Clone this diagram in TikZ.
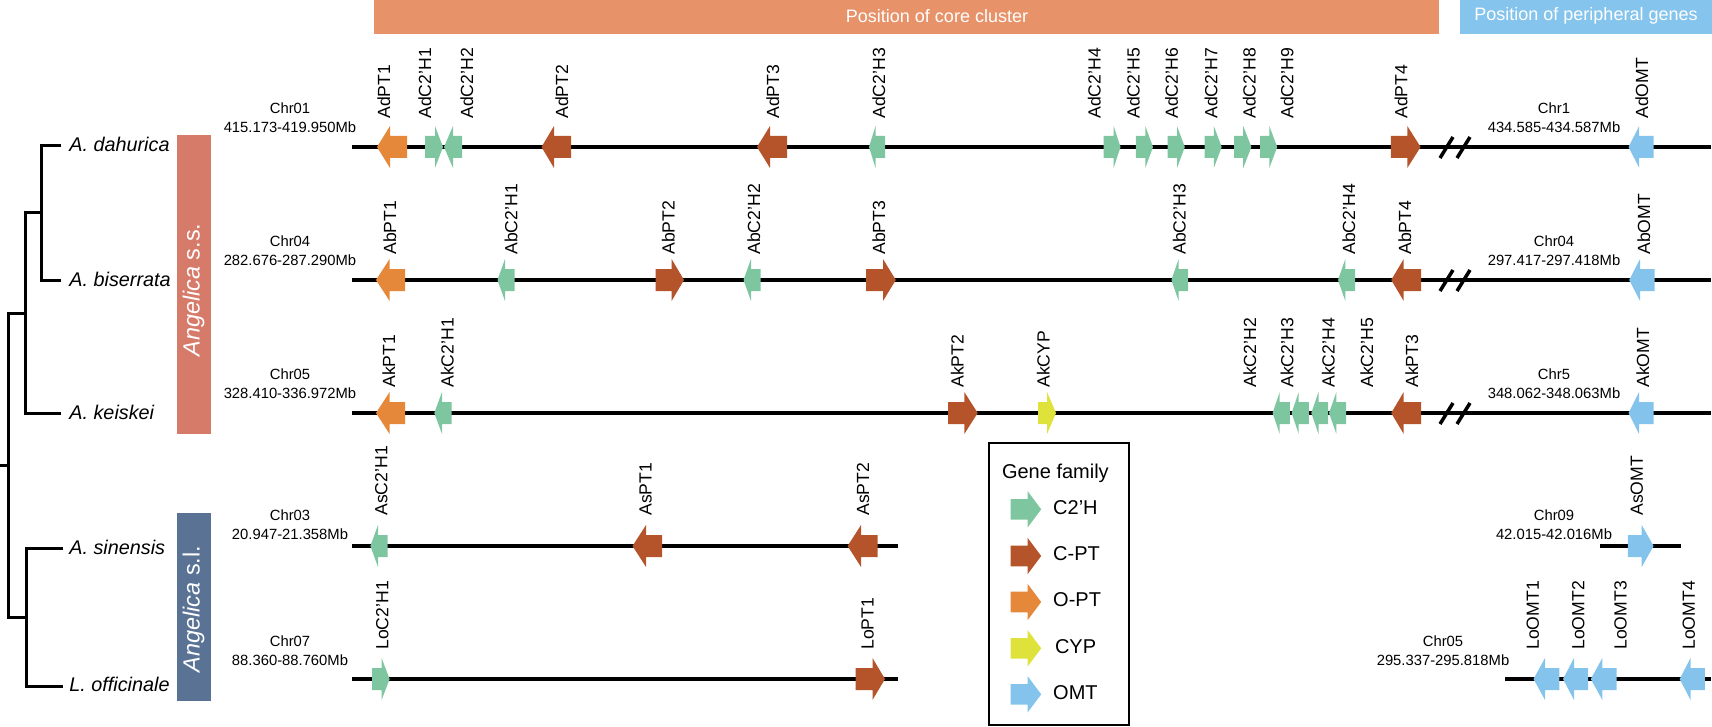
\documentclass[tikz,border=0pt]{standalone}
\usepackage{fontspec}
\setmainfont{Liberation Sans}

\definecolor{chtwoh}{RGB}{126,198,160}
\definecolor{cpt}{RGB}{181,84,42}
\definecolor{opt}{RGB}{229,136,58}
\definecolor{cyp}{RGB}{222,226,58}
\definecolor{omt}{RGB}{132,195,236}
\definecolor{corebar}{RGB}{232,146,106}
\definecolor{peribar}{RGB}{133,196,236}
\definecolor{ssbar}{RGB}{214,122,106}
\definecolor{slbar}{RGB}{90,114,148}

\tikzset{
	chrline/.style={line width=1.75pt},
	brkmark/.style={line width=1.75pt},
	tree/.style={line width=1.5pt},
	genelab/.style={rotate=90,anchor=base west,inner sep=0pt,font=\fontsize{8.8}{10}\selectfont},
	chrlab/.style={align=center,inner sep=0pt,font=\fontsize{7.4}{9.5}\selectfont},
	species/.style={anchor=base west,inner sep=0pt,font=\fontsize{9.9}{11}\selectfont\itshape},
	cladelab/.style={rotate=90,white,inner sep=0pt,font=\fontsize{11.7}{13}\selectfont},
	headlab/.style={white,inner sep=0pt,font=\fontsize{9}{10}\selectfont},
	leglab/.style={anchor=west,inner sep=0pt,font=\fontsize{10}{11}\selectfont}
}

% gene arrow: name, text, label x, label y, tail x, head base x, tip x, row y, colour
\newcommand{\gene}[9]{%
	\fill[#9] (#5,#8-11) -- (#6,#8-11) -- (#6,#8-21) -- (#7,#8) -- (#6,#8+21) -- (#6,#8+11) -- (#5,#8+11) -- cycle;
	\node[genelab] (#1) at (#3,#4) {#2};}

% legend arrow: row y, colour
\newcommand{\legarrow}[2]{%
	\fill[#2] (1010.6,#1-10.3) -- (1027.5,#1-10.3) -- (1027.5,#1-18.3) -- (1041.2,#1) -- (1027.5,#1+18.3) -- (1027.5,#1+10.3) -- (1010.6,#1+10.3) -- cycle;}

\begin{document}
\begin{tikzpicture}[x=0.5pt,y=-0.5pt]
	\useasboundingbox (0,0) rectangle (1712,727);
	
	% header bars
	\fill[corebar] (374,0) rectangle (1439,34);
	\node[headlab] (core) at (937,16) {Position of core cluster};
	\fill[peribar] (1460,0) rectangle (1712,34);
	\node[headlab] (peri) at (1586,16) {Position of peripheral genes};
	
	% tree
	\draw[tree] (61,146)--(41,146)--(41,280)--(61,280);
	\draw[tree] (41,213)--(25,213)--(25,413)--(61,413);
	\draw[tree] (25,313)--(8,313)--(8,617)--(26,617);
	\draw[tree] (0,465)--(8,465);
	\draw[tree] (63,548)--(26,548)--(26,686)--(63,686);
	
	\node[species] (dah) at (69,152) {A. dahurica};
	\node[species] (bis) at (69,286) {A. biserrata};
	\node[species] (kei) at (69,419) {A. keiskei};
	\node[species] (sin) at (69,554) {A. sinensis};
	\node[species] (off) at (69,691) {L. officinale};
	
	% clade bars
	\fill[ssbar] (177,135) rectangle (210.5,434);
	\node[cladelab] (ss) at (193.5,290) {\itshape Angelica\upshape{} s.s.};
	\fill[slbar] (177,513) rectangle (210.5,701);
	\node[cladelab] (sl) at (193.5,609) {\itshape Angelica\upshape{} s.l.};
	
	% chromosomes
	\draw[chrline] (352,147)--(1711,147);
	\draw[chrline] (352,280)--(1711,280);
	\draw[chrline] (352,413)--(1711,413);
	\draw[chrline] (352,546)--(898,546);
	\draw[chrline] (1600,546)--(1681,546);
	\draw[chrline] (352,679)--(898,679);
	\draw[chrline] (1505,679)--(1711,679);
	
	\draw[brkmark] (1440,158)--(1453,137) (1457,158)--(1470,137);
	\draw[brkmark] (1440,291)--(1453,270) (1457,291)--(1470,270);
	\draw[brkmark] (1440,424)--(1453,403) (1457,424)--(1470,403);
	
	\node[chrlab] (chrAd) at (290,117.5) {Chr01\\415.173-419.950Mb};
	\node[chrlab] (chrAdp) at (1554,117.5) {Chr1\\434.585-434.587Mb};
	\node[chrlab] (chrAb) at (290,250.5) {Chr04\\282.676-287.290Mb};
	\node[chrlab] (chrAbp) at (1554,250.5) {Chr04\\297.417-297.418Mb};
	\node[chrlab] (chrAk) at (290,383.5) {Chr05\\328.410-336.972Mb};
	\node[chrlab] (chrAkp) at (1554,383.5) {Chr5\\348.062-348.063Mb};
	\node[chrlab] (chrAs) at (290,525) {Chr03\\20.947-21.358Mb};
	\node[chrlab] (chrAsp) at (1554,525) {Chr09\\42.015-42.016Mb};
	\node[chrlab] (chrLo) at (290,651) {Chr07\\88.360-88.760Mb};
	\node[chrlab] (chrLop) at (1443,651) {Chr05\\295.337-295.818Mb};
	
	% A. dahurica
	\gene{AdPT1}{AdPT1}{390}{119}{407}{390}{377}{147}{opt}
	\gene{AdC2H1}{AdC2’H1}{431}{119}{425}{435}{443}{147}{chtwoh}
	\gene{AdC2H2}{AdC2’H2}{473}{119}{462}{453}{444}{147}{chtwoh}
	\gene{AdPT2}{AdPT2}{568}{119}{571}{554}{541.5}{147}{cpt}
	\gene{AdPT3}{AdPT3}{779}{119}{787}{770}{757}{147}{cpt}
	\gene{AdC2H3}{AdC2’H3}{885}{119}{885}{875.5}{869}{147}{chtwoh}
	\gene{AdC2H4}{AdC2’H4}{1100.6}{119}{1103.6}{1113.6}{1120.5}{147}{chtwoh}
	\gene{AdC2H5}{AdC2’H5}{1139.6}{119}{1135.8}{1145.3}{1153}{147}{chtwoh}
	\gene{AdC2H6}{AdC2’H6}{1177.9}{119}{1167.5}{1177}{1184.8}{147}{chtwoh}
	\gene{AdC2H7}{AdC2’H7}{1217.4}{119}{1204.5}{1213.8}{1221.7}{147}{chtwoh}
	\gene{AdC2H8}{AdC2’H8}{1255.7}{119}{1234.2}{1243.2}{1251.4}{147}{chtwoh}
	\gene{AdC2H9}{AdC2’H9}{1293.4}{119}{1260}{1269.3}{1277.2}{147}{chtwoh}
	\gene{AdPT4}{AdPT4}{1407.3}{119}{1390.8}{1407.3}{1420.6}{147}{cpt}
	\gene{AdOMT}{AdOMT}{1648.2}{119}{1653.6}{1639.2}{1628.5}{147}{omt}
	
	% A. biserrata
	\gene{AbPT1}{AbPT1}{396}{255}{405}{389.6}{376}{280}{opt}
	\gene{AbC2H1}{AbC2’H1}{517.4}{255}{514.7}{505}{497.5}{280}{chtwoh}
	\gene{AbPT2}{AbPT2}{674.6}{255}{655.5}{671.6}{684}{280}{cpt}
	\gene{AbC2H2}{AbC2’H2}{760}{255}{760.7}{751}{743.5}{280}{chtwoh}
	\gene{AbPT3}{AbPT3}{885}{255}{866}{883}{895.8}{280}{cpt}
	\gene{AbC2H3}{AbC2’H3}{1185.5}{255}{1188.2}{1178.6}{1171.4}{280}{chtwoh}
	\gene{AbC2H4}{AbC2’H4}{1355}{255}{1355}{1345.3}{1338}{280}{chtwoh}
	\gene{AbPT4}{AbPT4}{1411}{255}{1421}{1403.7}{1391.2}{280}{cpt}
	\gene{AbOMT}{AbOMT}{1650}{255}{1654.6}{1640}{1629.2}{280}{omt}
	
	% A. keiskei
	\gene{AkPT1}{AkPT1}{395}{388}{405}{389.6}{376}{413}{opt}
	\gene{AkC2H1}{AkC2’H1}{453.5}{388}{451.6}{442}{434.3}{413}{chtwoh}
	\gene{AkPT2}{AkPT2}{963.6}{388}{948}{964.3}{977.7}{413}{cpt}
	\gene{AkCYP}{AkCYP}{1049.7}{388}{1038}{1047}{1056}{413}{cyp}
	\gene{AkC2H2}{AkC2’H2}{1256}{388}{1289.8}{1279.7}{1272.6}{413}{chtwoh}
	\gene{AkC2H3}{AkC2’H3}{1293.4}{388}{1308.8}{1298.7}{1291.6}{413}{chtwoh}
	\gene{AkC2H4}{AkC2’H4}{1334.6}{388}{1328}{1318.5}{1311.3}{413}{chtwoh}
	\gene{AkC2H5}{AkC2’H5}{1373}{388}{1346}{1336.4}{1329}{413}{chtwoh}
	\gene{AkPT3}{AkPT3}{1418}{388}{1421}{1403.7}{1391.2}{413}{cpt}
	\gene{AkOMT}{AkOMT}{1649}{388}{1653.6}{1639}{1628.5}{413}{omt}
	
	% A. sinensis
	\gene{AsC2H1}{AsC2’H1}{387.3}{516}{387.7}{378}{370.4}{546}{chtwoh}
	\gene{AsPT1}{AsPT1}{651.7}{516}{662}{646}{632.5}{546}{cpt}
	\gene{AsPT2}{AsPT2}{869}{516}{877.5}{861}{847.6}{546}{cpt}
	\gene{AsOMT}{AsOMT}{1642.8}{516}{1627.8}{1641.7}{1653.6}{546}{omt}
	
	% L. officinale
	\gene{LoC2H1}{LoC2’H1}{388.4}{650}{372}{381.6}{389.6}{679}{chtwoh}
	\gene{LoPT1}{LoPT1}{873.6}{650}{855.6}{872.5}{885}{679}{cpt}
	\gene{LoOMT1}{LoOMT1}{1538.9}{650}{1559.3}{1545}{1533.5}{679}{omt}
	\gene{LoOMT2}{LoOMT2}{1584.4}{650}{1588}{1574}{1563}{679}{omt}
	\gene{LoOMT3}{LoOMT3}{1626.7}{650}{1616.6}{1602.3}{1590.8}{679}{omt}
	\gene{LoOMT4}{LoOMT4}{1694.8}{650}{1704.8}{1690.5}{1679.7}{679}{omt}
	
	% legend
	\draw[line width=1pt] (989,443) rectangle (1129,725);
	\node[inner sep=0pt,font=\fontsize{10}{11}\selectfont] (legtitle) at (1055.4,473) {Gene family};
	\legarrow{509.3}{chtwoh}
	\legarrow{556}{cpt}
	\legarrow{602}{opt}
	\legarrow{648.3}{cyp}
	\legarrow{694.3}{omt}
	\node[leglab] (legc2h) at (1052.8,507.5) {C2’H};
	\node[leglab] (legcpt) at (1052.8,554) {C-PT};
	\node[leglab] (legopt) at (1052.8,600) {O-PT};
	\node[leglab] (legcyp) at (1054.6,646.5) {CYP};
	\node[leglab] (legomt) at (1052.8,692.5) {OMT};
	
\end{tikzpicture}
\end{document}
